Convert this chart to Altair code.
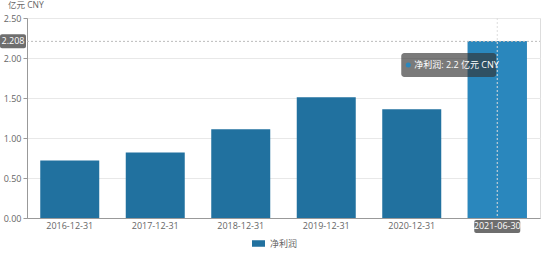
import altair as alt
import pandas as pd

categories = ["2016-12-31", "2017-12-31", "2018-12-31", "2019-12-31", "2020-12-31", "2021-06-30"]
values = [0.72, 0.82, 1.11, 1.51, 1.36, 2.208]
series_name = "净利润"
unit_label = "亿元  CNY"
y_ticks = [0, 0.5, 1.0, 1.5, 2.0, 2.5]
hover_cat = "2021-06-30"
hover_val = 2.208
tooltip_text = "净利润: 2.2 亿元 CNY"

FONT = "Open Sans, Noto Sans CJK SC"
BAR = "#21719f"
BAR_HI = "#2a87bd"

df = pd.DataFrame({"date": categories, "value": values, "series": [series_name] * len(categories)})
hi = df[df["date"] == hover_cat]

xaxis = alt.Axis(title=None, labelAngle=0, ticks=False, domainColor="#999", labelFontSize=9,
                 labelPadding=3, grid=False, zindex=1, labelFont=FONT,
                 labelColor=alt.condition(f"datum.value == '{hover_cat}'", alt.value("white"), alt.value("#666")))
xscale = alt.Scale(paddingInner=0.31, paddingOuter=0.155)
yaxis = alt.Axis(title=None, values=y_ticks, labelOverlap=False, format=".2f",
                 tickSize=4, tickColor="#999", domainColor="#999", labelFontSize=9,
                 labelColor="#666", labelPadding=2, gridColor="#e8e8e8", labelFont=FONT)
yscale = alt.Scale(domain=[0, 2.5])
X = alt.X("date:N", sort=categories, scale=xscale, axis=xaxis)
Y = alt.Y("value:Q", scale=yscale, axis=yaxis)

bars = alt.Chart(df).mark_bar().encode(
    x=X, y=Y,
    color=alt.Color("series:N", scale=alt.Scale(range=[BAR]),
                    legend=alt.Legend(title=None, orient="none", legendX=224, legendY=218,
                                      symbolType="M-1,-0.5H1V0.5H-1Z", symbolSize=170,
                                      labelFontSize=9, labelColor="#666", labelFont=FONT)),
)

hibar = alt.Chart(hi).mark_bar(color=BAR_HI).encode(x=X, y=Y)

hrule = alt.Chart(hi).mark_rule(color="#bbb", strokeDash=[2, 2]).encode(
    y=Y, x=alt.value(0), x2=alt.value(513))
vrule = alt.Chart(hi).mark_rule(color="#ddd", strokeDash=[2, 2]).encode(
    x=X, y=alt.value(0), y2=alt.value(200))

ybox = alt.Chart(hi).mark_rect(color="#6e6e6e", cornerRadius=2, yOffset=-7, y2Offset=7).encode(
    y=Y, y2="value:Q", x=alt.value(-27), x2=alt.value(-1))
ytext = alt.Chart(hi).mark_text(color="white", fontSize=9, font=FONT, align="center", baseline="middle").encode(
    y=Y, x=alt.value(-14), text=alt.Text("value:Q", format=".3f"))

xbox = alt.Chart(hi).mark_rect(color="#6e6e6e", cornerRadius=2, xOffset=-23, x2Offset=23).encode(
    x=X, x2="date:N", y=alt.value(202), y2=alt.value(215))

tip_df = pd.DataFrame({"date": [hover_cat], "label": [tooltip_text]})
tipbox = alt.Chart(tip_df).mark_rect(color="#333", opacity=0.65, cornerRadius=3, xOffset=-96, x2Offset=-1).encode(
    x=X, x2="date:N", y=alt.value(35), y2=alt.value(59))
tipdot = alt.Chart(tip_df).mark_point(filled=True, color=BAR_HI, size=25, opacity=1, xOffset=-89).encode(
    x=X, y=alt.value(47))
tiptext = alt.Chart(tip_df).mark_text(color="white", fontSize=9, font=FONT, align="left", baseline="middle", dx=-83).encode(
    x=X, y=alt.value(47), text="label:N")

unit = alt.Chart(tip_df).mark_text(color="#666", fontSize=8.5, font=FONT, align="left", baseline="middle").encode(
    x=alt.value(-19), y=alt.value(-13), text=alt.value(unit_label))

chart = alt.layer(bars, hibar, hrule, vrule, ybox, ytext, xbox, tipbox, tipdot, tiptext, unit).properties(
    width=513, height=200,
    padding={"left": 27, "top": 18, "right": 10, "bottom": 42},
    autosize=alt.AutoSizeParams(type="none"),
).configure_view(stroke=None).configure(font=FONT)

chart.save("out.html", embed_options={"renderer": "svg", "actions": False})
